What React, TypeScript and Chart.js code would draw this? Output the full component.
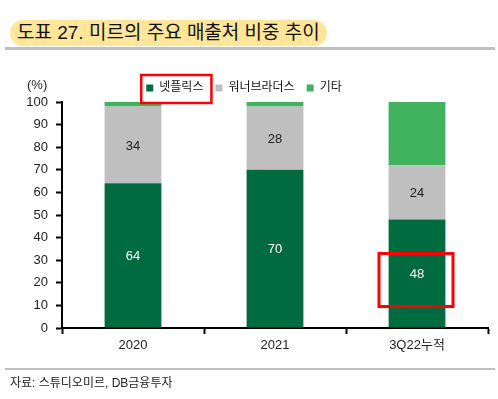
import React, { useEffect, useRef } from "react";
import { Chart, registerables } from "chart.js";

Chart.register(...registerables);

const categories = ["2020", "2021", "3Q22누적"];
const seriesNames = ["넷플릭스", "워너브라더스", "기타"];
const netflix = [64, 70, 48];
const warner = [34, 28, 24];
const others = [2, 2, 28];
const yTicks = [0, 10, 20, 30, 40, 50, 60, 70, 80, 90, 100];
const labelledSeries = [0, 1];
const highlightIndex = 2;

const colors = ["#006B3F", "#BFBFBF", "#41B25E"];
const FONT = "'Liberation Sans', 'Noto Sans CJK KR', Arial, sans-serif";

const legendShrinkPlugin = {
  id: "legendShrink",
  beforeLayout(chart: any) {
    const lg = chart.legend;
    if (lg && !lg.__patched) {
      const orig = lg.fit;
      lg.fit = function (this: any) {
        orig.call(this);
        this.height -= 2;
      };
      lg.__patched = true;
    }
  },
};

const overlayPlugin = {
  id: "overlay",
  afterDatasetsDraw(chart: any) {
    const ctx = chart.ctx;
    ctx.save();
    ctx.font = `13px ${FONT}`;
    ctx.textAlign = "center";
    ctx.textBaseline = "middle";
    labelledSeries.forEach((di) => {
      const meta = chart.getDatasetMeta(di);
      meta.data.forEach((bar: any, i: number) => {
        const v = chart.data.datasets[di].data[i];
        ctx.fillStyle = di === 0 ? "#ffffff" : "#222222";
        ctx.fillText(String(v), bar.x, (bar.y + bar.base) / 2 + 1);
      });
    });
    const hb: any = chart.getDatasetMeta(0).data[highlightIndex];
    const cy = (hb.y + hb.base) / 2;
    ctx.strokeStyle = "#FF0000";
    ctx.lineWidth = 3;
    ctx.strokeRect(hb.x - 38, cy - 20, 74, 53);
    const boxes = chart.legend && chart.legend.legendHitBoxes;
    if (boxes && boxes[0]) {
      const b = boxes[0];
      ctx.lineWidth = 2.5;
      ctx.strokeRect(b.left - 5, b.top + b.height / 2 - 13, b.width + 13, 28);
    }
    ctx.restore();
  },
};

export default function App() {
  const ref = useRef<HTMLCanvasElement | null>(null);
  useEffect(() => {
    if (!ref.current) return;
    const chart = new Chart(ref.current, {
      type: "bar",
      data: {
        labels: categories,
        datasets: [
          { label: seriesNames[0], data: netflix, backgroundColor: colors[0] },
          { label: seriesNames[1], data: warner, backgroundColor: colors[1] },
          { label: seriesNames[2], data: others, backgroundColor: colors[2] },
        ],
      },
      options: {
        animation: false,
        responsive: false,
        devicePixelRatio: 1,
        layout: { padding: { left: 0, right: 10, top: 70, bottom: 40 } },
        datasets: { bar: { categoryPercentage: 1, barPercentage: 0.4 } },
        plugins: {
          tooltip: { enabled: false },
          legend: {
            position: "top",
            labels: {
              boxWidth: 7,
              boxHeight: 7,
              padding: 12,
              color: "#111",
              font: { size: 12, family: FONT },
            },
          },
        },
        scales: {
          x: {
            stacked: true,
            border: { display: true, color: "#000", width: 2 },
            grid: {
              display: true,
              offset: true,
              drawOnChartArea: false,
              drawTicks: true,
              tickLength: 6,
              tickWidth: 2,
              tickColor: "#000",
            },
            ticks: { color: "#222", padding: 4, font: { size: 13, family: FONT } },
            afterFit(scale: any) {
              scale.height = 31;
            },
          },
          y: {
            stacked: true,
            min: 0,
            max: 100,
            afterBuildTicks(scale: any) {
              scale.ticks = yTicks.map((v) => ({ value: v }));
            },
            border: { display: true, color: "#000", width: 2 },
            grid: {
              display: true,
              drawOnChartArea: false,
              drawTicks: true,
              tickLength: 6,
              tickWidth: 2,
              tickColor: "#000",
            },
            ticks: { color: "#222", padding: 8, font: { size: 13, family: FONT } },
            afterFit(scale: any) {
              scale.width = 62;
            },
          },
        },
      },
      plugins: [legendShrinkPlugin, overlayPlugin],
    });
    return () => chart.destroy();
  }, []);

  return (
    <div style={{ position: "absolute", left: 0, top: 0, width: 498, height: 399, background: "#fff", fontFamily: FONT }}>
      <div
        style={{
          position: "absolute",
          left: 10,
          top: 20,
          height: 26,
          lineHeight: "26px",
          padding: "0 7px",
          background: "#FFE699",
          borderRadius: 13,
          fontSize: 19,
          color: "#111",
          whiteSpace: "nowrap",
        }}
      >
        도표 27. 미르의 주요 매출처 비중 추이
      </div>
      <div style={{ position: "absolute", left: 5, top: 47, width: 490, height: 3, background: "#BFBFBF" }} />
      <canvas ref={ref} width={498} height={399} style={{ position: "absolute", left: 0, top: 0, width: 498, height: 399 }} />
      <div style={{ position: "absolute", left: 27, top: 77, fontSize: 13, color: "#222" }}>(%)</div>
      <div style={{ position: "absolute", left: 5, top: 368, width: 490, height: 2, background: "#BFBFBF" }} />
      <div style={{ position: "absolute", left: 10, top: 373, fontSize: 12, color: "#222", whiteSpace: "nowrap" }}>
        자료: 스튜디오미르, DB금융투자
      </div>
    </div>
  );
}
